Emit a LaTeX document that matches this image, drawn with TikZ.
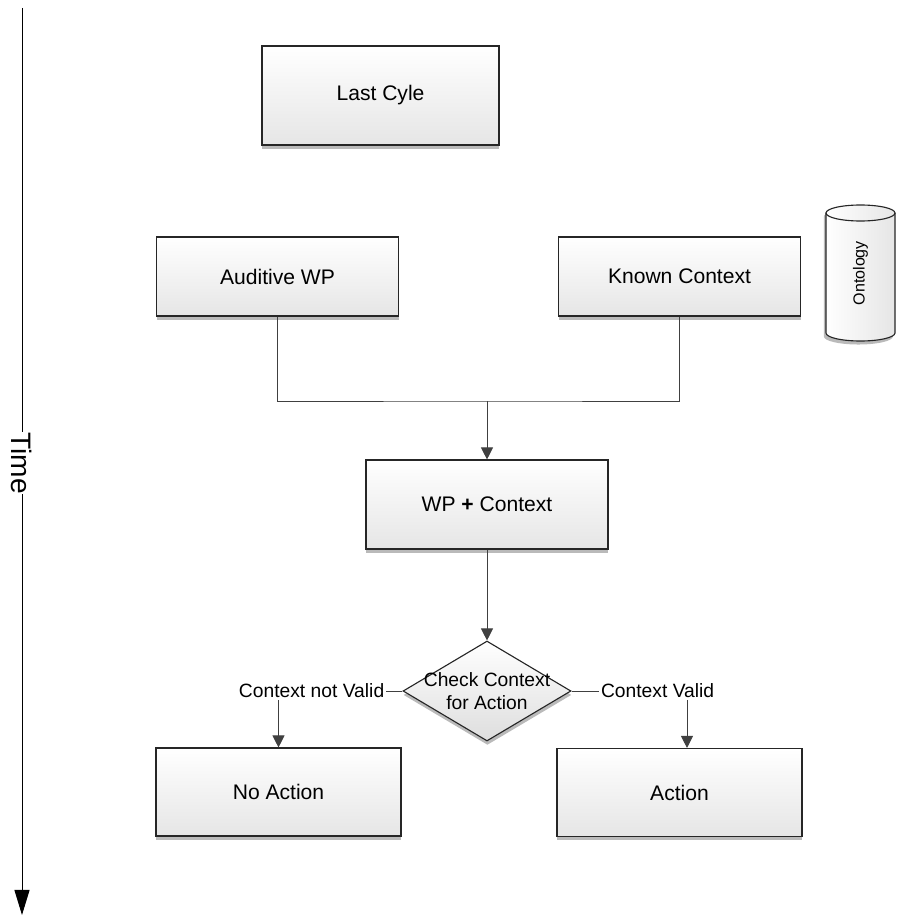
\documentclass[tikz,border=0pt]{standalone}
\usepackage{fontspec}
\setmainfont{Liberation Sans}
\usetikzlibrary{%
  arrows.meta,%
  shapes.geometric,%
  shadows,%
}

\tikzset{
  boxshadow/.style={drop shadow={shadow xshift=0.3pt, shadow yshift=-2.8pt,
      fill=black!27, opacity=1}},
  block/.style={draw=black!85, line width=0.8pt, top color=white,
    bottom color=black!10, boxshadow, minimum width=6.05cm,
    minimum height=2.2cm, font=\fontsize{15}{18}\selectfont},
  decision/.style={diamond, draw=black!85, line width=0.8pt, top color=white,
    bottom color=black!13, boxshadow, minimum width=4.2cm,
    minimum height=2.5cm, inner sep=0pt},
  branch/.style={font=\fontsize{13.7}{16.5}\selectfont, inner sep=1pt},
  link/.style={draw=black!75, line width=0.6pt},
  tip/.style={-{Triangle[width=8.5pt,length=8.5pt]}},
  store/.style={draw=black!85, line width=0.8pt, left color=white,
    right color=black!10,
    drop shadow={shadow xshift=-1.5pt, shadow yshift=-2.5pt, fill=black!27,
      opacity=1}},
}

\begin{document}
\begin{tikzpicture}

  \useasboundingbox (0, 0) rectangle (22.4, -22.925);

  % time axis
  \coordinate (ttop) at (0.55, -0.2);
  \coordinate (tbot) at (0.55, -22.875);
  \node [rotate=-90, inner sep=0pt, font=\fontsize{20}{22}\selectfont]
    (time) at (0.55, -11.575) {Time};
  \draw [line width=0.7pt] (ttop) -- (time);
  \draw [line width=0.7pt, -{Triangle[width=10.7pt,length=17.8pt]}]
    (time) -- (tbot);

  % boxes
  \node [block, minimum width=5.925cm, minimum height=2.475cm]
    (last) at (9.5125, -2.3875) {Last Cyle};
  \node [block, minimum height=1.975cm] (aud) at (6.9375, -6.9125)
    {Auditive WP};
  \node [block, minimum height=1.975cm] (known) at (16.9875, -6.9125)
    {Known Context};
  \node [block, minimum height=2.225cm] (wp) at (12.175, -12.6125)
    {WP \textbf{+} Context};
  \node [block, minimum width=6.125cm] (noact) at (6.9625, -19.8)
    {No Action};
  \node [block, minimum width=6.125cm] (act) at (16.9875, -19.8125)
    {Action};

  % ontology store
  \path [store] (20.65, -5.325) -- (20.65, -8.325)
    arc [start angle=180, end angle=360, x radius=0.8625, y radius=0.2]
    -- (22.375, -5.325)
    arc [start angle=0, end angle=180, x radius=0.8625, y radius=0.2]
    -- cycle;
  \draw [draw=black!85, line width=0.8pt] (20.65, -5.325)
    arc [start angle=180, end angle=360, x radius=0.8625, y radius=0.2];
  \node [rotate=90, font=\fontsize{11.4}{13}\selectfont] (onto)
    at (21.5125, -6.83) {Ontology};

  % decision
  \node [decision] (check) at (12.175, -17.275) {};
  \node [branch, align=center] (checktxt) at (check.center)
    {Check Context\\for Action};
  \node [branch] (notvalid) at (7.79, -17.275) {Context not Valid};
  \node [branch] (valid) at (16.44, -17.275) {Context Valid};

  % connectors
  \coordinate (merge) at (12.175, -10.025);
  \draw [link] (aud.south) |- (merge) -| (known.south);
  \draw [link, tip] (merge) -- (wp.north);
  \draw [link, tip] (wp.south) -- (check.north);
  \draw [link] (check.west) -- (notvalid.east);
  \draw [link] (check.east) -- (valid.west);
  \draw [link, tip] (notvalid.south -| noact.north) -- (noact.north);
  \draw [link, tip] (valid.south -| 17.175, 0) -- (17.175, 0 |- act.north);

\end{tikzpicture}
\end{document}
